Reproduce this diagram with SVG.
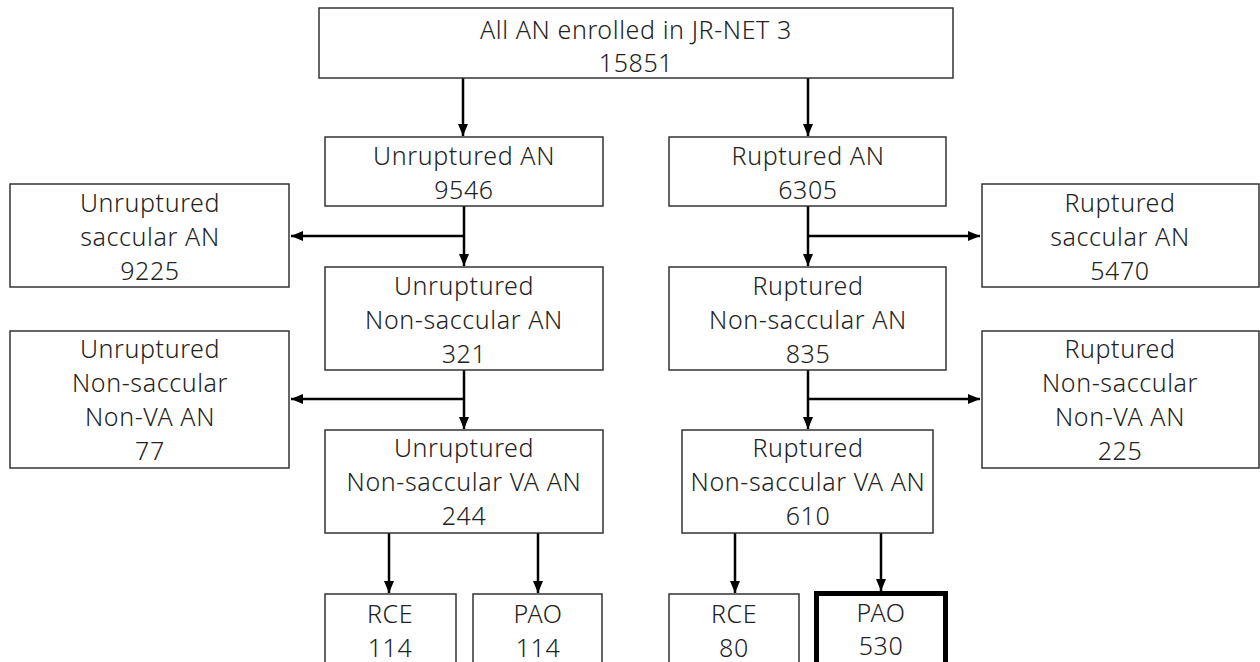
<svg xmlns="http://www.w3.org/2000/svg" width="1260" height="662" viewBox="0 0 1260 662">
<style>
.box{fill:#fff;stroke:#333;stroke-width:1.5}
.thick{fill:#fff;stroke:#000;stroke-width:5}
.t{font-family:"Noto Sans","Liberation Sans",sans-serif;font-size:25px;font-weight:300;letter-spacing:0.6px;fill:#222;text-anchor:middle;dominant-baseline:central}
.c{stroke:#000;stroke-width:2.5;fill:none;marker-end:url(#ah)}
</style>
<defs>
<marker id="ah" viewBox="0 0 12 12" refX="12" refY="6" markerWidth="12" markerHeight="12" markerUnits="userSpaceOnUse" orient="auto">
<path d="M0,1 L12,6 L0,11 z" fill="#000"/>
</marker>
</defs>
<rect width="1260" height="662" fill="#fff"/>
<g id="connectors">
<line class="c" x1="463" y1="78" x2="463" y2="136"/>
<line class="c" x1="808" y1="78" x2="808" y2="136"/>
<line class="c" x1="464" y1="206" x2="464" y2="266"/>
<line class="c" x1="464" y1="236" x2="291" y2="236"/>
<line class="c" x1="808" y1="206" x2="808" y2="266"/>
<line class="c" x1="808" y1="236" x2="980" y2="236"/>
<line class="c" x1="464" y1="370" x2="464" y2="429"/>
<line class="c" x1="464" y1="399" x2="291" y2="399"/>
<line class="c" x1="808" y1="370" x2="808" y2="429"/>
<line class="c" x1="808" y1="399" x2="980" y2="399"/>
<line class="c" x1="389" y1="533" x2="389" y2="593"/>
<line class="c" x1="538" y1="533" x2="538" y2="593"/>
<line class="c" x1="735" y1="533" x2="735" y2="593"/>
<line class="c" x1="881" y1="533" x2="881" y2="591"/>
</g>
<g id="n-all">
<rect class="box" x="319" y="8" width="634" height="70"/>
<text class="t" x="636" y="29">All AN enrolled in JR-NET 3</text>
<text class="t" x="636" y="62">15851</text>
</g>
<g id="n-unrup">
<rect class="box" x="325" y="137" width="278" height="69"/>
<text class="t" x="464" y="155">Unruptured AN</text>
<text class="t" x="464" y="189">9546</text>
</g>
<g id="n-rup">
<rect class="box" x="669" y="137" width="277" height="69"/>
<text class="t" x="808" y="155">Ruptured AN</text>
<text class="t" x="808" y="189">6305</text>
</g>
<g id="n-unrup-sacc">
<rect class="box" x="10" y="184" width="279" height="103"/>
<text class="t" x="150" y="202">Unruptured</text>
<text class="t" x="150" y="236">saccular AN</text>
<text class="t" x="150" y="270">9225</text>
</g>
<g id="n-rup-sacc">
<rect class="box" x="982" y="184" width="277" height="103"/>
<text class="t" x="1120" y="202">Ruptured</text>
<text class="t" x="1120" y="236">saccular AN</text>
<text class="t" x="1120" y="270">5470</text>
</g>
<g id="n-unrup-ns">
<rect class="box" x="325" y="267" width="278" height="103"/>
<text class="t" x="464" y="285">Unruptured</text>
<text class="t" x="464" y="319">Non-saccular AN</text>
<text class="t" x="464" y="353">321</text>
</g>
<g id="n-rup-ns">
<rect class="box" x="669" y="267" width="277" height="103"/>
<text class="t" x="808" y="285">Ruptured</text>
<text class="t" x="808" y="319">Non-saccular AN</text>
<text class="t" x="808" y="353">835</text>
</g>
<g id="n-unrup-nonva">
<rect class="box" x="10" y="331" width="279" height="137"/>
<text class="t" x="150" y="348">Unruptured</text>
<text class="t" x="150" y="382">Non-saccular</text>
<text class="t" x="150" y="416">Non-VA AN</text>
<text class="t" x="150" y="450">77</text>
</g>
<g id="n-rup-nonva">
<rect class="box" x="982" y="331" width="277" height="137"/>
<text class="t" x="1120" y="348">Ruptured</text>
<text class="t" x="1120" y="382">Non-saccular</text>
<text class="t" x="1120" y="416">Non-VA AN</text>
<text class="t" x="1120" y="450">225</text>
</g>
<g id="n-unrup-va">
<rect class="box" x="325" y="430" width="278" height="103"/>
<text class="t" x="464" y="447">Unruptured</text>
<text class="t" x="464" y="481">Non-saccular VA AN</text>
<text class="t" x="464" y="515">244</text>
</g>
<g id="n-rup-va">
<rect class="box" x="682" y="430" width="251" height="103"/>
<text class="t" x="808" y="447">Ruptured</text>
<text class="t" x="808" y="481">Non-saccular VA AN</text>
<text class="t" x="808" y="515">610</text>
</g>
<g id="n-unrup-rce">
<rect class="box" x="325" y="594" width="131" height="80"/>
<text class="t" x="390" y="613">RCE</text>
<text class="t" x="390" y="647">114</text>
</g>
<g id="n-unrup-pao">
<rect class="box" x="473" y="594" width="129" height="80"/>
<text class="t" x="538" y="613">PAO</text>
<text class="t" x="538" y="647">114</text>
</g>
<g id="n-rup-rce">
<rect class="box" x="669" y="594" width="130" height="80"/>
<text class="t" x="734" y="613">RCE</text>
<text class="t" x="734" y="647">80</text>
</g>
<g id="n-rup-pao">
<rect class="thick" x="816.5" y="593.5" width="129" height="80"/>
<text class="t" x="881" y="612">PAO</text>
<text class="t" x="881" y="645">530</text>
</g>
</svg>
